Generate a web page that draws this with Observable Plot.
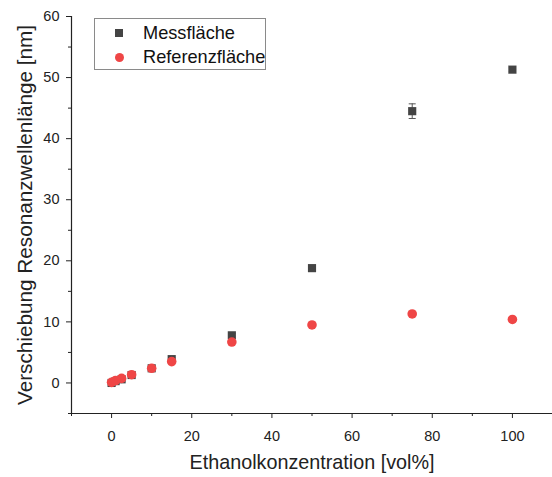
<!DOCTYPE html>
<html>
<head>
<meta charset="utf-8">
<script src="https://cdn.jsdelivr.net/npm/d3@7"></script>
<script src="https://cdn.jsdelivr.net/npm/@observablehq/plot@0.6"></script>
<style>
  html, body { margin: 0; padding: 0; background: #fff; }
  #wrap { position: relative; width: 552px; height: 477px; font-family: "Liberation Sans", Arial, sans-serif; }
  #legend { position: absolute; left: 94px; top: 18px; width: 172px; height: 52px; border: 1px solid #8a8a8a; background: #fff; box-sizing: border-box; }
  .item { position: absolute; left: 0; height: 22px; display: flex; align-items: center; font-size: 18.2px; color: #111; }
  .sym { width: 48px; display: flex; justify-content: center; align-items: center; }
</style>
</head>
<body>
<div id="wrap">
  <div id="chart"></div>
  <div id="legend">
    <div class="item" style="top:3px"><span class="sym"><span style="display:inline-block;width:8px;height:8px;background:#444"></span></span>Messfläche</div>
    <div class="item" style="top:27px"><span class="sym"><span style="display:inline-block;width:9px;height:9px;border-radius:50%;background:#ef4646"></span></span>Referenzfläche</div>
  </div>
</div>
<script>
const conc = [0, 1, 2.5, 5, 10, 15, 30, 50, 75, 100];
const mess = [0.0, 0.3, 0.6, 1.3, 2.4, 3.9, 7.8, 18.8, 44.5, 51.3];
const messErr = [0.3, 0.3, 0.3, 0.3, 0.3, 0.3, 0.3, 0.3, 1.2, 0.3];
const ref = [0.1, 0.4, 0.75, 1.35, 2.4, 3.5, 6.7, 9.5, 11.3, 10.4];
const xTicks = [0, 20, 40, 60, 80, 100];
const xMinor = [-10, 10, 30, 50, 70, 90, 110];
const yTicks = [0, 10, 20, 30, 40, 50, 60];
const yMinor = [-5, 5, 15, 25, 35, 45, 55];
const seriesNames = ["Messfläche", "Referenzfläche"];
const xTitle = "Ethanolkonzentration [vol%]";
const yTitle = "Verschiebung Resonanzwellenlänge [nm]";

const messData = conc.map((c, i) => ({x: c, y: mess[i], lo: mess[i] - messErr[i], hi: mess[i] + messErr[i]}));
const refData = conc.map((c, i) => ({x: c, y: ref[i]}));

const capSymbol = { draw(ctx, size) { ctx.moveTo(-3.5, 0); ctx.lineTo(3.5, 0); } };

const chart = Plot.plot({
  width: 552,
  height: 477,
  marginLeft: 71,
  marginRight: 0,
  marginTop: 16,
  marginBottom: 64,
  style: { fontFamily: "'Liberation Sans', Arial, sans-serif", fontSize: "14px", color: "#222", background: "#fff" },
  x: { domain: [-10, 110] },
  y: { domain: [-5, 60] },
  marks: [
    Plot.axisX({ ticks: xTicks, tickSize: 5, tickPadding: 12, fontSize: 14.5, label: null, stroke: "#222" }),
    Plot.axisX({ ticks: xMinor, tickSize: 3, tickFormat: () => "", label: null, stroke: "#222" }),
    Plot.axisY({ ticks: yTicks, tickSize: 5, tickPadding: 7, fontSize: 14.5, label: null, stroke: "#222" }),
    Plot.axisY({ ticks: yMinor, tickSize: 3, tickFormat: () => "", label: null, stroke: "#222" }),
    Plot.ruleY([-5], { stroke: "#222", strokeWidth: 1.2 }),
    Plot.ruleX([-10], { stroke: "#222", strokeWidth: 1.2 }),
    Plot.ruleX(messData, { x: "x", y1: "lo", y2: "hi", stroke: "#555", strokeWidth: 1 }),
    Plot.dot(messData, { x: "x", y: "lo", symbol: capSymbol, stroke: "#555", strokeWidth: 1, r: 3 }),
    Plot.dot(messData, { x: "x", y: "hi", symbol: capSymbol, stroke: "#555", strokeWidth: 1, r: 3 }),
    Plot.dot(messData, { x: "x", y: "y", symbol: "square", fill: "#444", stroke: "none", r: 4.6 }),
    Plot.dot(refData, { x: "x", y: "y", symbol: "circle", fill: "#ef4646", stroke: "none", r: 4.8 }),
    Plot.text([xTitle], { frameAnchor: "bottom", dy: 55, fontSize: 19.8, fill: "#222", className: "xtitle" }),
    Plot.text([yTitle], { frameAnchor: "left", dx: -46, rotate: -90, textAnchor: "middle", fontSize: 20, fill: "#222", className: "ytitle" })
  ]
});
document.getElementById("chart").appendChild(chart);
// stretch titles to the lengths measured in the reference
const xt = chart.querySelector(".xtitle text");
if (xt) { xt.setAttribute("textLength", 245); xt.setAttribute("lengthAdjust", "spacingAndGlyphs"); }
const yt = chart.querySelector(".ytitle text");
if (yt) { yt.setAttribute("textLength", 380); yt.setAttribute("lengthAdjust", "spacingAndGlyphs"); }
</script>
</body>
</html>
